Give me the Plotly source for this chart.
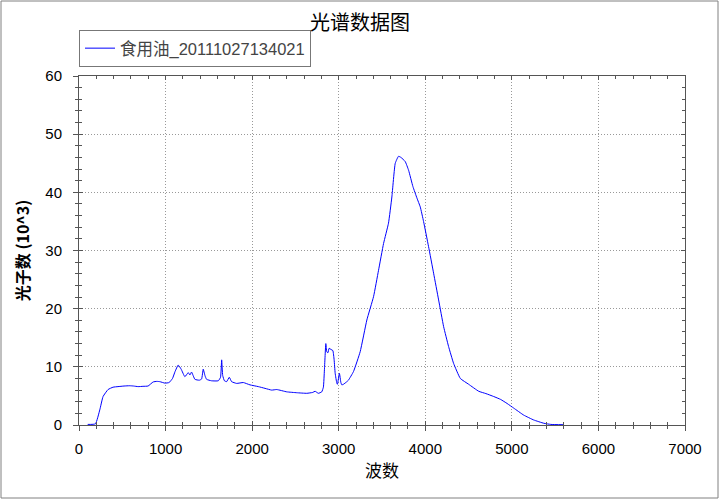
import plotly.graph_objects as go

wavenumber = [100, 190, 240, 278, 336, 393, 450, 520, 587, 630, 683, 740, 798, 856, 900, 934, 992,
              1041, 1080, 1110, 1146, 1180, 1223, 1262, 1281, 1300, 1339, 1389, 1416, 1435, 1455,
              1474, 1531, 1609, 1635, 1648, 1660, 1680, 1705, 1736, 1763, 1821, 1898, 1975, 2071,
              2149, 2226, 2284, 2400, 2515, 2631, 2700, 2727, 2765, 2804, 2823, 2835, 2851, 2862,
              2874, 2890, 2909, 2932, 2947, 2959, 2978, 2985, 3008, 3025, 3036, 3055, 3094, 3112,
              3171, 3248, 3325, 3402, 3460, 3518, 3575, 3614, 3653, 3691, 3719, 3768, 3807, 3857,
              3904, 3942, 3980, 4038, 4096, 4154, 4212, 4269, 4327, 4405, 4501, 4617, 4700, 4790,
              4870, 4945, 5022, 5137, 5253, 5369, 5450, 5600]
photons = [0.1, 0.2, 2.6, 4.9, 6.1, 6.5, 6.6, 6.7, 6.75, 6.7, 6.6, 6.65, 6.7, 7.4, 7.5, 7.45, 7.2,
           7.3, 8.0, 9.2, 10.3, 9.6, 8.3, 9.0, 8.6, 9.1, 7.85, 7.7, 7.9, 9.6, 8.5,
           7.85, 7.6, 7.6, 8.2, 11.2, 8.5, 7.6, 7.45, 8.2, 7.45, 7.15, 7.3, 6.9, 6.6,
           6.3, 6.0, 6.1, 5.7, 5.55, 5.45, 5.6, 5.8, 5.45, 5.7, 6.5, 9.5, 14.0, 12.6,
           12.4, 13.2, 13.0, 12.8, 11.2, 8.9, 7.2, 7.0, 8.9, 7.3, 6.9, 7.0, 7.45, 7.7,
           9.2, 12.6, 18.05, 22.05, 26.6, 31.2, 34.7, 39.2, 45.0, 46.2, 46.0, 45.3, 43.8, 41.0,
           39.0, 37.5, 35.0, 30.65, 26.1, 21.5, 16.9, 13.5, 10.6, 8.0, 7.0, 5.8, 5.4, 4.9,
           4.4, 3.7, 2.9, 1.7, 0.86, 0.3, 0.1, 0.05]

series_name = "食用油_20111027134021"
title_text = "光谱数据图"
x_title = "波数"
y_title = "<b>光子数 (10^3)</b>"

FONT = "Liberation Sans, Arial, Noto Sans CJK SC"
AX = "#555555"
GRID_DASH = "1px,2px"

fig = go.Figure()
fig.add_trace(go.Scatter(x=wavenumber, y=photons, mode="lines", name=series_name,
                         line=dict(color="#0000ff", width=1, shape="spline", smoothing=0.4)))
# invisible helper trace for the outer tick axes
fig.add_trace(go.Scatter(x=[wavenumber[0]], y=[photons[0]], mode="markers", xaxis="x2", yaxis="y2",
                         marker=dict(opacity=0), showlegend=False, hoverinfo="skip"))

common_x = dict(range=[0, 7000], dtick=1000, tick0=0)
common_y = dict(range=[0, 60], dtick=10, tick0=0)

fig.update_layout(
    width=720, height=500,
    margin=dict(l=79, r=35, t=76, b=75),
    paper_bgcolor="white", plot_bgcolor="white",
    font=dict(family=FONT, color="black", size=15),
    title=dict(text=title_text, x=0.5, xanchor="center", y=0.955, yanchor="middle",
               font=dict(family="Noto Sans CJK SC", size=20, color="black")),
    showlegend=True,
    legend=dict(x=0, y=1.026, xanchor="left", yanchor="bottom", orientation="h",
                bgcolor="white", bordercolor="#777777", borderwidth=1,
                font=dict(family=FONT, size=16.5, color="#444444"),
                itemwidth=30),
    xaxis=dict(**common_x, showline=True, linecolor=AX, linewidth=1, mirror="ticks",
               ticks="inside", ticklen=4, tickcolor=AX,
               minor=dict(dtick=200, ticks="inside", ticklen=3, tickcolor=AX, showgrid=False),
               showgrid=True, gridcolor="#999999", griddash=GRID_DASH, gridwidth=1,
               zeroline=False, ticklabelstandoff=10,
               title=dict(text=x_title, font=dict(family="Noto Sans CJK SC", size=17), standoff=9)),
    yaxis=dict(**common_y, showline=True, linecolor=AX, linewidth=1, mirror="ticks",
               ticks="inside", ticklen=4, tickcolor=AX,
               minor=dict(dtick=2, ticks="inside", ticklen=3, tickcolor=AX, showgrid=False),
               showgrid=True, gridcolor="#999999", griddash=GRID_DASH, gridwidth=1,
               zeroline=False, ticklabelstandoff=13,
               title=dict(text=y_title, font=dict(family="Noto Sans CJK SC", size=16), standoff=11)),
    xaxis2=dict(**common_x, overlaying="x", side="bottom", anchor="y2", showline=False,
                showticklabels=False, showgrid=False, zeroline=False,
                ticks="outside", ticklen=5, tickcolor=AX,
                minor=dict(dtick=200, ticks="outside", ticklen=3, tickcolor=AX)),
    yaxis2=dict(**common_y, overlaying="y", side="left", anchor="x2", showline=False,
                showticklabels=False, showgrid=False, zeroline=False,
                ticks="outside", ticklen=5, tickcolor=AX,
                minor=dict(dtick=2, ticks="outside", ticklen=3, tickcolor=AX)),
)

pw, ph = 720 - 79 - 35, 500 - 76 - 75
fig.add_shape(type="rect", xref="paper", yref="paper",
              x0=-78 / pw, x1=1 + 33 / pw, y0=-73 / ph, y1=1 + 75 / ph,
              line=dict(color="#808080", width=1), fillcolor="rgba(0,0,0,0)", layer="below")

fig.write_html("out.html", config={"displayModeBar": False},
               post_script="document.body.style.margin='0';")
